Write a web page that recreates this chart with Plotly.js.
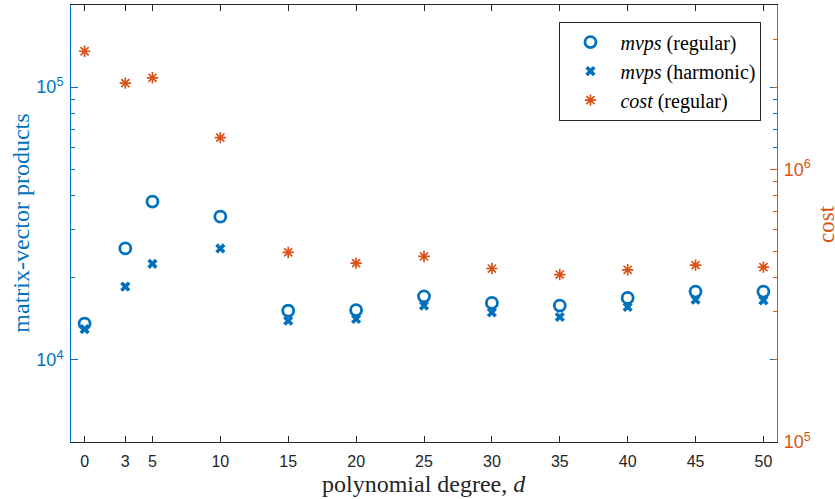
<!DOCTYPE html>
<html>
<head>
<meta charset="utf-8">
<script src="https://cdn.plot.ly/plotly-3.0.1.min.js"></script>
<style>html,body{margin:0;padding:0;background:#fff;}#chart{width:835px;height:499px;}</style>
</head>
<body>
<div id="chart"></div>
<script>
// Data
const degrees = [0, 3, 5, 10, 15, 20, 25, 30, 35, 40, 45, 50];
const mvpsRegular = [13570, 25620, 38060, 33510, 15140, 15230, 17100, 16170, 15810, 16870, 17800, 17800];
const mvpsHarmonic = [12970, 18560, 22500, 25620, 13915, 14120, 15810, 14930, 14360, 15630, 16630, 16530];
const costRegular = [2707000, 2069000, 2164000, 1306000, 495400, 452800, 478800, 432500, 411100, 427800, 445200, 437700];
const xTickVals = [0, 3, 5, 10, 15, 20, 25, 30, 35, 40, 45, 50];
const leftMajor = [1e4, 1e5];
const leftMajorText = ['10<sup>4</sup>', '10<sup>5</sup>'];
const leftMinor = [2e4, 3e4, 4e4, 5e4, 6e4, 7e4, 8e4, 9e4];
const rightMajor = [1e5, 1e6];
const rightMajorText = ['10<sup>5</sup>', '10<sup>6</sup>'];
const rightMinor = [2e5, 3e5, 4e5, 5e5, 6e5, 7e5, 8e5, 9e5, 2e6, 3e6];

const BLUE = '#0072BD';
const RED = '#D95319';
const DARK = '#262626';
const SERIF = '"Liberation Serif", "Times New Roman", serif';
const SANS = '"Liberation Sans", Arial, sans-serif';

const traces = [
  {
    x: degrees, y: mvpsRegular, type: 'scatter', mode: 'markers',
    name: '<i>mvps</i> (regular)', yaxis: 'y',
    marker: {symbol: 'circle-open', size: 11, color: BLUE, line: {width: 2.8, color: BLUE}}
  },
  {
    x: degrees, y: mvpsHarmonic, type: 'scatter', mode: 'markers',
    name: '<i>mvps</i> (harmonic)', yaxis: 'y',
    marker: {symbol: 'x', size: 9, color: BLUE, line: {width: 0}}
  },
  {
    x: degrees, y: costRegular, type: 'scatter', mode: 'markers',
    name: '<i>cost</i> (regular)', yaxis: 'y2',
    marker: {symbol: 'asterisk-open', size: 9.5, color: RED, line: {width: 1.7, color: RED}}
  }
];

const layout = {
  width: 835, height: 499,
  margin: {l: 71, r: 58, t: 5, b: 57},
  paper_bgcolor: '#ffffff', plot_bgcolor: '#ffffff',
  showlegend: true,
  legend: {
    x: 0.978, y: 0.962, xanchor: 'right', yanchor: 'top',
    bgcolor: '#ffffff', bordercolor: DARK, borderwidth: 1,
    font: {family: SERIF, size: 20, color: '#000'},
    itemwidth: 50, tracegroupgap: 0
  },
  xaxis: {
    range: [-1, 51], tickmode: 'array', tickvals: xTickVals,
    ticks: 'inside', ticklen: 6, tickwidth: 1, tickcolor: DARK,
    showline: true, linecolor: DARK, linewidth: 1, mirror: 'ticks',
    showgrid: false, zeroline: false, ticklabelstandoff: 5,
    tickfont: {family: SANS, size: 16, color: DARK}
  },
  yaxis: {
    type: 'log', range: [Math.log10(5000), Math.log10(2e5)],
    tickmode: 'array', tickvals: leftMajor, ticktext: leftMajorText,
    ticks: 'inside', ticklen: 7, tickwidth: 1, tickcolor: BLUE,
    minor: {tickmode: 'array', tickvals: leftMinor, ticks: 'inside', ticklen: 4, tickcolor: BLUE, showgrid: false},
    showline: true, linecolor: BLUE, linewidth: 1, mirror: 'ticks',
    showgrid: false, zeroline: false, ticklabelstandoff: 3,
    tickfont: {family: SANS, size: 18, color: BLUE}
  },
  yaxis2: {
    type: 'log', range: [5, Math.log10(4e6)], overlaying: 'y', side: 'right',
    tickmode: 'array', tickvals: rightMajor, ticktext: rightMajorText,
    ticks: 'inside', ticklen: 7, tickwidth: 1, tickcolor: RED,
    minor: {tickmode: 'array', tickvals: rightMinor, ticks: 'inside', ticklen: 4, tickcolor: RED, showgrid: false},
    showline: true, linecolor: RED, linewidth: 1.2,
    showgrid: false, zeroline: false, ticklabelstandoff: 2,
    tickfont: {family: SANS, size: 18, color: RED}
  },
  annotations: [
    {text: 'matrix-vector products', xref: 'paper', yref: 'paper', x: -0.072, y: 0.5,
     xanchor: 'center', yanchor: 'middle', textangle: -90, showarrow: false,
     font: {family: SERIF, size: 24, color: BLUE}},
    {text: 'cost', xref: 'paper', yref: 'paper', x: 1.07, y: 0.5,
     xanchor: 'center', yanchor: 'middle', textangle: -90, showarrow: false,
     font: {family: SERIF, size: 23, color: RED}},
    {text: 'polynomial degree, <i>d</i>', xref: 'paper', yref: 'paper', x: 0.5, y: -0.097,
     xanchor: 'center', yanchor: 'middle', showarrow: false,
     font: {family: SERIF, size: 24, color: DARK}}
  ]
};

Plotly.newPlot('chart', traces, layout, {displayModeBar: false, staticPlot: true});
</script>
</body>
</html>
